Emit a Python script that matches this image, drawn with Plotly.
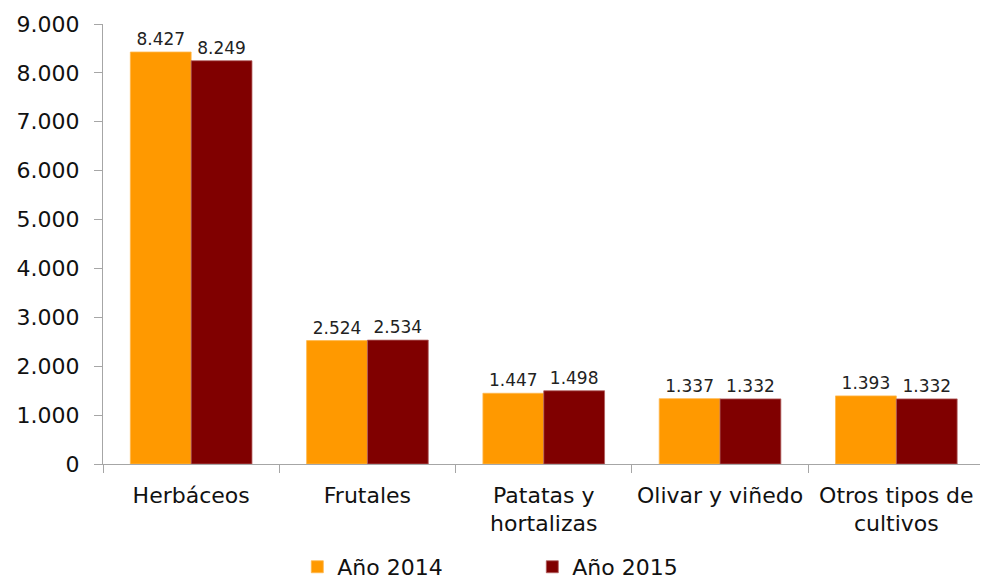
import plotly.graph_objects as go

categories = ["Herbáceos", "Frutales", "Patatas y<br>hortalizas", "Olivar y viñedo", "Otros tipos de<br>cultivos"]
values_2014 = [8427, 2524, 1447, 1337, 1393]
values_2015 = [8249, 2534, 1498, 1332, 1332]
series_names = ["Año 2014", "Año 2015"]
tick_vals = [0, 1000, 2000, 3000, 4000, 5000, 6000, 7000, 8000, 9000]

FONT = "DejaVu Sans, Liberation Sans, Arial, sans-serif"

fig = go.Figure()
fig.add_trace(go.Bar(
    x=categories, y=values_2014, name=series_names[0],
    marker=dict(color="#FF9900", line=dict(color="#FFB84D", width=0.8)),
    texttemplate="%{y:,d}", textposition="outside", cliponaxis=False,
    textfont=dict(family=FONT, size=17, color="#222222"),
))
fig.add_trace(go.Bar(
    x=categories, y=values_2015, name=series_names[1],
    marker=dict(color="#800000", line=dict(color="#B06060", width=0.8)),
    texttemplate="%{y:,d}", textposition="outside", cliponaxis=False,
    textfont=dict(family=FONT, size=17, color="#222222"),
))

fig.update_layout(
    width=980, height=572,
    margin=dict(l=95, r=0, t=16, b=116, autoexpand=False),
    paper_bgcolor="white", plot_bgcolor="white",
    separators=",.",
    barmode="group", bargap=0.31, bargroupgap=0,
    font=dict(family=FONT, size=22, color="#111111"),
    showlegend=True,
    legend=dict(
        orientation="h", xref="container", yref="paper",
        x=0.535, xanchor="center", y=-0.234, yanchor="middle",
        font=dict(family=FONT, size=22, color="#111111"),
        entrywidth=190, entrywidthmode="pixels",
        itemwidth=30, tracegroupgap=0,
    ),
    xaxis=dict(
        showline=True, linecolor="#A6A6A6", linewidth=1.3,
        ticks="outside", tickson="boundaries", ticklen=8, tickcolor="#A6A6A6",
        tickfont=dict(family=FONT, size=22, color="#111111"),
        tickangle=0, ticklabelstandoff=11,
        showgrid=False, range=[-0.5, 4.52],
    ),
    yaxis=dict(
        range=[0, 9000], tickvals=tick_vals, tickformat=",d",
        showline=True, linecolor="#A6A6A6", linewidth=1.3,
        ticks="outside", ticklen=8, tickcolor="#A6A6A6",
        tickfont=dict(family=FONT, size=22, color="#111111"),
        ticklabelstandoff=10,
        showgrid=False, zeroline=False,
    ),
)

fig.write_html("out.html")
